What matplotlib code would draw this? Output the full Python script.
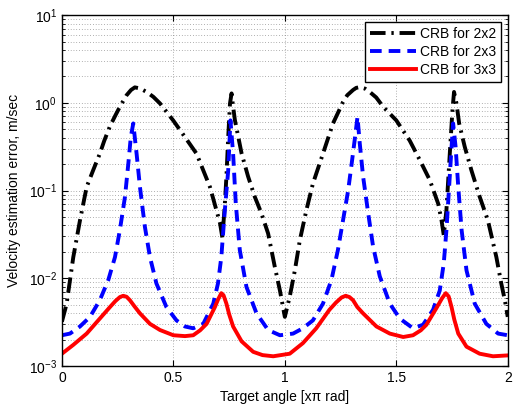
import matplotlib
matplotlib.use("Agg")
import matplotlib.pyplot as plt
from matplotlib.ticker import LogLocator, NullFormatter, FixedLocator

plt.rcParams['font.family'] = ['Liberation Sans', 'DejaVu Sans']
plt.rcParams['mathtext.fontset'] = 'custom'
plt.rcParams['mathtext.rm'] = 'Liberation Sans'
plt.rcParams['mathtext.it'] = 'Liberation Sans:italic'

# CRB for 2x2 (black dash-dot)
x_22 = [0.0, 0.021, 0.051, 0.081, 0.111, 0.14, 0.17, 0.19, 0.215, 0.24, 0.26, 0.29,
        0.31, 0.327, 0.35, 0.38, 0.41, 0.44, 0.499, 0.552, 0.604, 0.664, 0.709,
        0.72, 0.731, 0.738, 0.746, 0.754, 0.761, 0.768, 0.776, 0.806, 0.835,
        0.865, 0.895, 0.925, 0.955, 0.978, 1.0, 1.022, 1.045, 1.067, 1.097,
        1.126, 1.171, 1.216, 1.261, 1.28, 1.306, 1.32, 1.336, 1.36, 1.381, 1.41,
        1.441, 1.5, 1.56, 1.605, 1.65, 1.688, 1.703, 1.713, 1.725, 1.74, 1.752,
        1.759, 1.77, 1.782, 1.807, 1.837, 1.874, 1.911, 1.949, 1.971, 1.987, 2.0]
crb_22 = [3.2e-3, 5.1e-3, 0.0174, 0.0457, 0.11, 0.17, 0.263, 0.37, 0.537, 0.72, 0.902, 1.22,
          1.40, 1.50, 1.46, 1.33, 1.17, 0.984, 0.631, 0.407, 0.263, 0.11, 0.0427,
          0.0288, 0.0708, 0.145, 0.407, 0.984, 1.28, 0.902, 0.635, 0.265, 0.145,
          0.0851, 0.055, 0.0324, 0.0135, 7.24e-3, 3.63e-3, 6.17e-3, 0.0123, 0.0269, 0.0603,
          0.12, 0.263, 0.582, 1.02, 1.22, 1.40, 1.48, 1.51, 1.45, 1.33, 1.15,
          0.902, 0.631, 0.372, 0.224, 0.132, 0.0708, 0.0457, 0.0309, 0.0603, 0.263, 0.826,
          1.33, 0.984, 0.582, 0.316, 0.17, 0.0851, 0.0457, 0.0174, 8.71e-3, 5.62e-3, 3.63e-3]

# CRB for 2x3 (blue dashed)
x_23 = [0.0, 0.036, 0.081, 0.126, 0.17, 0.208, 0.238, 0.26, 0.283, 0.298, 0.309,
        0.32, 0.335, 0.35, 0.372, 0.395, 0.424, 0.469, 0.514, 0.552, 0.589,
        0.634, 0.679, 0.70, 0.715, 0.731, 0.746, 0.756, 0.768, 0.78, 0.798,
        0.828, 0.873, 0.925, 0.978, 1.037, 1.081, 1.126, 1.171, 1.209, 1.238,
        1.261, 1.284, 1.30, 1.315, 1.326, 1.336, 1.351, 1.374, 1.396, 1.426,
        1.471, 1.516, 1.575, 1.62, 1.665, 1.695, 1.713, 1.725, 1.737, 1.748,
        1.755, 1.766, 1.778, 1.793, 1.815, 1.852, 1.904, 1.957, 2.0]
crb_23 = [2.24e-3, 2.34e-3, 2.82e-3, 3.63e-3, 5.62e-3, 9.55e-3, 0.0174, 0.0355, 0.0851, 0.204, 0.407,
          0.582, 0.263, 0.11, 0.0389, 0.0174, 8.71e-3, 4.68e-3, 3.31e-3, 2.82e-3, 2.69e-3,
          3.02e-3, 5.13e-3, 8.71e-3, 0.0174, 0.0603, 0.17, 0.631, 0.263, 0.0708, 0.0209,
          7.94e-3, 3.98e-3, 2.57e-3, 2.24e-3, 2.34e-3, 2.69e-3, 3.31e-3, 5.13e-3, 9.55e-3, 0.0209,
          0.0457, 0.1, 0.204, 0.407, 0.692, 0.347, 0.145, 0.055, 0.0229, 0.0105,
          5.13e-3, 3.47e-3, 2.69e-3, 2.95e-3, 4.37e-3, 7.24e-3, 0.0148, 0.0355, 0.11, 0.316,
          0.582, 0.316, 0.11, 0.0355, 0.0123, 5.13e-3, 3.02e-3, 2.34e-3, 2.24e-3]

# CRB for 3x3 (red solid)
x_33 = [0.0, 0.051, 0.111, 0.17, 0.215, 0.24, 0.26, 0.275, 0.29, 0.305, 0.325, 0.35,
        0.395, 0.44, 0.50, 0.552, 0.589, 0.62, 0.649, 0.686, 0.70, 0.715, 0.725,
        0.738, 0.75, 0.768, 0.806, 0.858, 0.90, 0.948, 1.022, 1.081, 1.141, 1.20,
        1.23, 1.255, 1.273, 1.29, 1.306, 1.325, 1.351, 1.411, 1.471, 1.531, 1.575,
        1.61, 1.635, 1.68, 1.705, 1.722, 1.735, 1.748, 1.76, 1.778, 1.815, 1.874,
        1.934, 2.0]
crb_33 = [1.38e-3, 1.74e-3, 2.34e-3, 3.47e-3, 4.68e-3, 5.5e-3, 6.1e-3, 6.31e-3, 6.15e-3, 5.62e-3, 4.8e-3, 3.98e-3,
          3.02e-3, 2.57e-3, 2.24e-3, 2.19e-3, 2.24e-3, 2.55e-3, 3.02e-3, 4.68e-3, 5.7e-3, 6.76e-3, 6.4e-3,
          5.13e-3, 3.9e-3, 2.82e-3, 1.91e-3, 1.45e-3, 1.33e-3, 1.29e-3, 1.38e-3, 1.82e-3, 2.69e-3, 4.37e-3,
          5.3e-3, 6.05e-3, 6.31e-3, 6.1e-3, 5.62e-3, 4.7e-3, 3.98e-3, 2.82e-3, 2.34e-3, 2.14e-3, 2.24e-3,
          2.55e-3, 2.95e-3, 4.57e-3, 5.9e-3, 6.76e-3, 6.2e-3, 4.68e-3, 3.4e-3, 2.34e-3, 1.66e-3, 1.38e-3,
          1.29e-3, 1.32e-3]

x_ticks = [0, 0.5, 1, 1.5, 2]
x_tick_labels = ['0', '0.5', '1', '1.5', '2']

fig = plt.figure(figsize=(5.16, 4.08), dpi=100)
ax = fig.add_axes([0.120, 0.103, 0.864, 0.860])

ax.plot(x_22, crb_22, color='black', lw=2.8, linestyle=(0, (4, 1.5, 0.6, 1.5)), label='CRB for 2x2')
ax.plot(x_23, crb_23, color='blue', lw=2.8, linestyle=(0, (3, 1.8)), label='CRB for 2x3')
ax.plot(x_33, crb_33, color='red', lw=2.8, linestyle='-', label='CRB for 3x3')

ax.set_yscale('log')
ax.set_xlim(0, 2)
ax.set_ylim(1e-3, 1e1)
ax.xaxis.set_major_locator(FixedLocator(x_ticks))
ax.set_xticklabels(x_tick_labels)
ax.yaxis.set_major_locator(LogLocator(base=10, numticks=10))
ax.yaxis.set_minor_locator(LogLocator(base=10, subs=range(2, 10), numticks=20))
ax.yaxis.set_minor_formatter(NullFormatter())

# matlab style dotted grid
grid_style = dict(linestyle=(0, (1, 3)), color='0.4', lw=0.5)
ax.grid(True, which='major', **grid_style)
ax.grid(True, which='minor', axis='y', **grid_style)
ax.tick_params(which='both', direction='in', top=True, right=True, labelsize=10)
ax.tick_params(which='major', length=4)
ax.tick_params(which='minor', length=2)
for s in ax.spines.values():
    s.set_linewidth(1.0)

ax.set_xlabel('Target angle [x\u03c0 rad]', fontsize=10, labelpad=4)
ax.set_ylabel('Velocity estimation error, m/sec', fontsize=10, labelpad=6)

leg = ax.legend(loc='upper right', fontsize=10, frameon=True, fancybox=False,
                edgecolor='black', framealpha=1, borderaxespad=0.5,
                handlelength=3.3, labelspacing=0.3, borderpad=0.35, handletextpad=0.3)
leg.get_frame().set_linewidth(1.0)

fig.savefig('out.png', dpi=100)
